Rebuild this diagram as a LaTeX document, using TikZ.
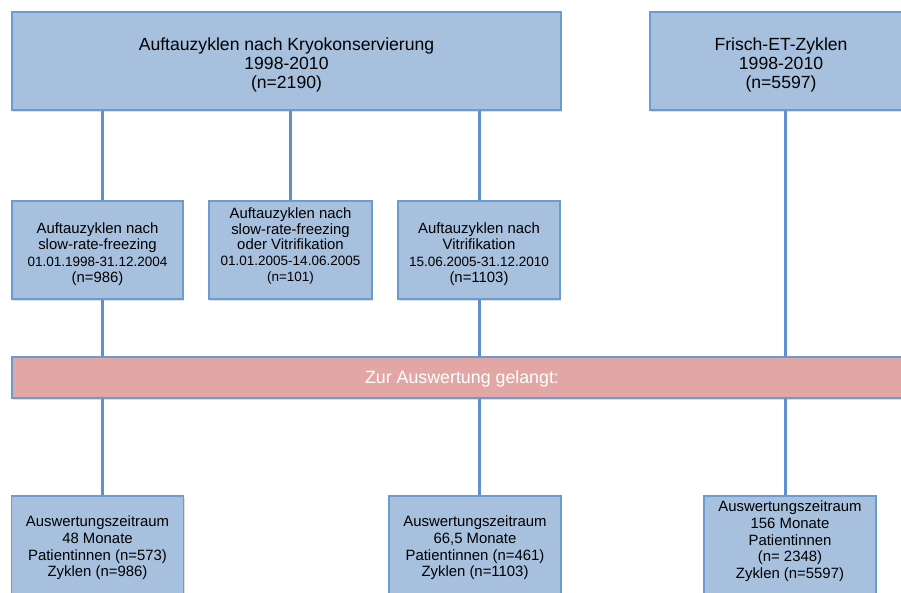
\documentclass[tikz,border=0pt]{standalone}
\usepackage{fontspec}
\setmainfont{Liberation Sans}
\usetikzlibrary{shadows}
\definecolor{boxblue}{HTML}{A7C0DE}
\definecolor{edgeblue}{HTML}{6B9BD1}
\definecolor{linkblue}{HTML}{5F90CB}
\definecolor{barred}{HTML}{E2A7A5}
\newcommand{\datefont}{\fontsize{13.5}{16.5}\selectfont}
\newcommand{\upgap}[1]{\rule{0pt}{#1}}
\newcommand{\downgap}[1]{\rule[-#1]{0pt}{#1}}
\begin{document}
\begin{tikzpicture}[x=1pt,y=-1pt,
  box/.style={draw=edgeblue,line width=1.2pt,fill=boxblue,inner sep=0pt,align=center,
    drop shadow={opacity=0.25,shadow xshift=1pt,shadow yshift=-1.5pt}},
  bigbox/.style={box,minimum height=98,font=\fontsize{17.6}{19}\selectfont},
  midbox/.style={box,minimum width=#1,minimum height=98,font=\fontsize{14.9}{16.5}\selectfont},
  lowbox/.style={box,minimum width=172,minimum height=104,font=\fontsize{14.9}{16.7}\selectfont},
  link/.style={linkblue,line width=3pt}]
  \clip (0,0) rectangle (901,592);
  % Ausgangsdaten
  \node[bigbox,minimum width=549] (kryo) at (286.5,61)
    {\upgap{21pt}Auftauzyklen nach Kryokonservierung\\1998-2010\\(n=2190)};
  \node[bigbox,minimum width=262] (frisch) at (781,61)
    {\upgap{21pt}Frisch-ET-Zyklen\\1998-2010\\(n=5597)};
  % Auftaumethoden
  \node[midbox=171] (slow) at (97.5,250)
    {\upgap{19pt}Auftauzyklen nach\\slow-rate-freezing\\{\datefont 01.01.1998-31.12.2004}\\(n=986)};
  \node[midbox=163,font=\fontsize{14.9}{15.8}\selectfont] (beide) at (290.5,250)
    {Auftauzyklen nach\\slow-rate-freezing\\oder Vitrifikation\\{\datefont 01.01.2005-14.06.2005}\\{\datefont (n=101)\downgap{11pt}}};
  \node[midbox=162] (vitri) at (479,250)
    {\upgap{19pt}Auftauzyklen nach\\Vitrifikation\\{\datefont 15.06.2005-31.12.2010}\\(n=1103)};
  % Balken
  \node[box,fill=barred,minimum width=900,minimum height=41,text=white,
    font=\fontsize{17.8}{19}\selectfont] (auswert) at (462,377.5) {\upgap{16pt}Zur Auswertung gelangt:};
  % Auswertung
  \node[lowbox] (evslow) at (97.5,548)
    {Auswertungszeitraum\\48 Monate\\Patientinnen (n=573)\\Zyklen (n=986)};
  \node[lowbox] (evvitri) at (475,548)
    {Auswertungszeitraum\\66,5 Monate\\Patientinnen (n=461)\\Zyklen (n=1103)};
  \node[lowbox] (evfrisch) at (790,548)
    {Auswertungszeitraum\\156 Monate\\Patientinnen\\(n= 2348)\\Zyklen (n=5597)\\\mbox{}};
  % Verbindungen
  \coordinate (l1) at (102,0);
  \coordinate (l2) at (290,0);
  \coordinate (l3) at (479,0);
  \coordinate (l4) at (785,0);
  \draw[link] (kryo.south -| l1) -- (slow.north -| l1);
  \draw[link] (kryo.south -| l2) -- (beide.north -| l2);
  \draw[link] (kryo.south -| l3) -- (vitri.north -| l3);
  \draw[link] (slow.south -| l1) -- (auswert.north -| l1);
  \draw[link] (vitri.south -| l3) -- (auswert.north -| l3);
  \draw[link] (frisch.south -| l4) -- (auswert.north -| l4);
  \draw[link] (auswert.south -| l1) -- (evslow.north -| l1);
  \draw[link] (auswert.south -| l3) -- (evvitri.north -| l3);
  \draw[link] (auswert.south -| l4) -- (evfrisch.north -| l4);
\end{tikzpicture}
\end{document}
